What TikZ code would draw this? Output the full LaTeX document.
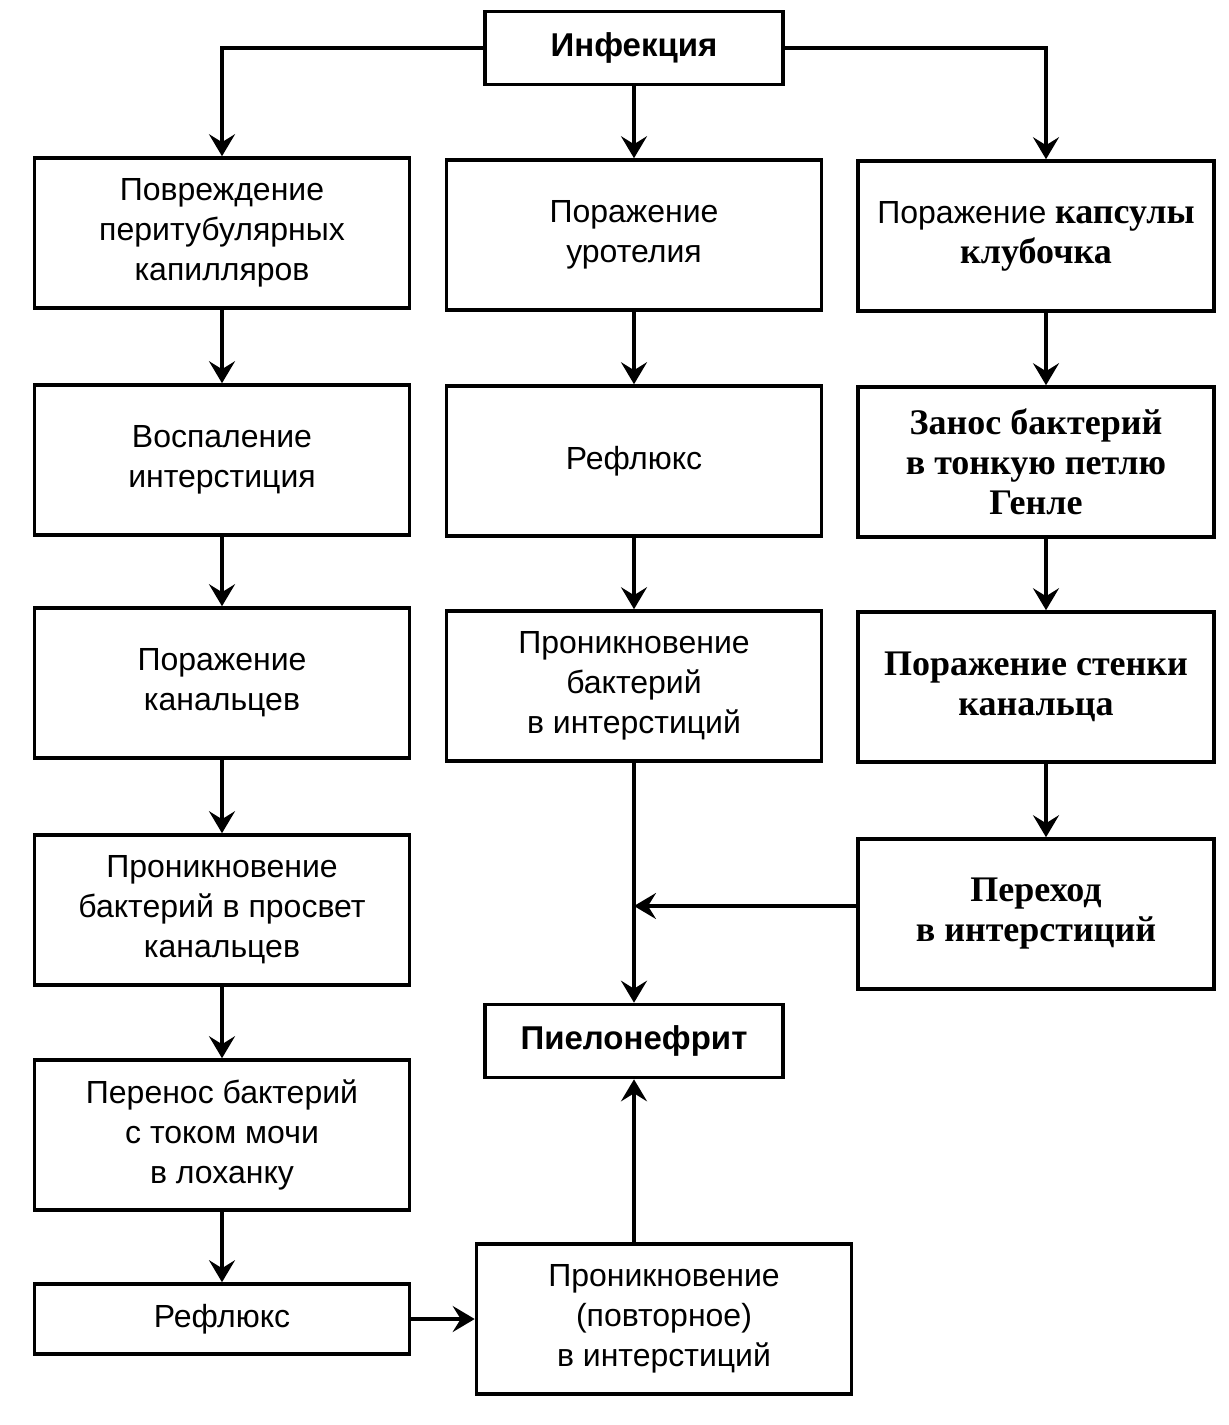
\documentclass[tikz,border=0pt]{standalone}
\usepackage{fontspec}
\setsansfont{Liberation Sans}
\newfontfamily\serifbold{Liberation Serif}
\usetikzlibrary{arrows.meta}
\tikzset{
  box/.style={draw, line width=1.8pt, align=center, inner sep=0pt,
    font=\sffamily\fontsize{16}{20}\selectfont},
  tall/.style={box, minimum width=187.5pt, minimum height=75pt},
  flat/.style={box, minimum width=149pt, minimum height=36.5pt,
    font=\sffamily\bfseries\fontsize{16.5}{20}\selectfont},
  serifbox/.style={tall, minimum width=178pt,
    font=\serifbold\bfseries\fontsize{18}{20}\selectfont},
  link/.style={line width=1.6pt, -{Stealth[length=11pt, width=13pt, inset=4pt]}},
}
\newcommand{\rmb}[1]{{\serifbold\bfseries\fontsize{18}{20}\selectfont #1}}
\begin{document}
\begin{tikzpicture}[x=0.5pt, y=-0.5pt]
  \useasboundingbox (0,0) rectangle (1229,1425);

  % top
  \node [flat] (inf) at (634,48) {Инфекция};

  % left column
  \node [tall] (l1) at (222,233) {Повреждение\\перитубулярных\\капилляров};
  \node [tall] (l2) at (222,460) {Воспаление\\интерстиция};
  \node [tall] (l3) at (222,683) {Поражение\\канальцев};
  \node [tall] (l4) at (222,910) {Проникновение\\бактерий в просвет\\канальцев};
  \node [tall] (l5) at (222,1135) {Перенос бактерий\\с током мочи\\в лоханку};
  \node [tall, minimum height=35pt] (l6) at (222,1319) {Рефлюкс};

  % middle column
  \node [tall] (m1) at (634,235) {Поражение\\уротелия};
  \node [tall] (m2) at (634,461) {Рефлюкс};
  \node [tall] (m3) at (634,686) {Проникновение\\бактерий\\в интерстиций};
  \node [flat] (pyel) at (634,1041) {Пиелонефрит};
  \node [tall] (m5) at (664,1319) {Проникновение\\(повторное)\\в интерстиций};

  % right column
  \node [tall, minimum width=178pt] (r1) at (1036,236) {Поражение \rmb{капсулы}\\\rmb{клубочка}};
  \node [serifbox] (r2) at (1036,462) {Занос бактерий\\в тонкую петлю\\Генле};
  \node [serifbox] (r3) at (1036,687) {Поражение стенки\\канальца};
  \node [serifbox] (r4) at (1036,914) {Переход\\в интерстиций};

  % arrows
  \draw [link] (inf.west) -| (l1.north);
  \draw [link] (inf.south) -- (m1.north);
  \draw [link] (inf.east) -| ([xshift=5pt]r1.north);
  \foreach \a/\b in {l1/l2, l2/l3, l3/l4, l4/l5, l5/l6, m1/m2, m2/m3, m3/pyel}
    \draw [link] (\a.south) -- (\b.north);
  \foreach \a/\b in {r1/r2, r2/r3, r3/r4}
    \draw [link] ([xshift=5pt]\a.south) -- ([xshift=5pt]\b.north);
  \draw [link] ([yshift=4pt]r4.west) -- ([yshift=4pt]r4.west -| m3.south);
  \draw [link] (l6.east) -- (m5.west);
  \draw [link] (m5.north -| pyel.south) -- (pyel.south);
\end{tikzpicture}
\end{document}
